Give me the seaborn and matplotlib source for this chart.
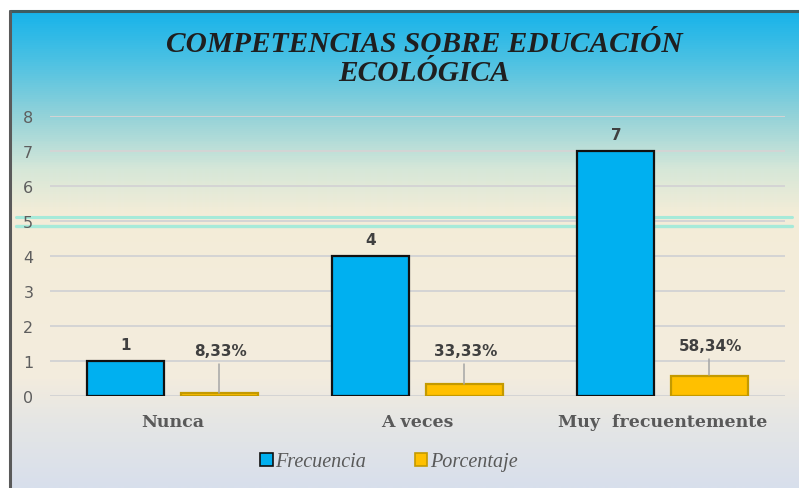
import numpy as np
import pandas as pd
import matplotlib
matplotlib.use("Agg")
import matplotlib.pyplot as plt
from matplotlib.colors import LinearSegmentedColormap
from matplotlib.patches import Patch
import seaborn as sns

# ---- data ----
categories = ["Nunca", "A veces", "Muy  frecuentemente"]
frecuencia = [1, 4, 7]
porcentaje = [0.0833, 0.3333, 0.5834]
pct_labels = ["8,33%", "33,33%", "58,34%"]
series_names = ["Frecuencia", "Porcentaje"]
title = "COMPETENCIAS SOBRE EDUCACIÓN\nECOLÓGICA"
yticks = list(range(0, 9))

df = pd.DataFrame({
    "cat": categories * 2,
    "serie": [series_names[0]] * 3 + [series_names[1]] * 3,
    "valor": frecuencia + porcentaje,
})

BLUE = "#00B0F0"
GOLD = "#FFC000"

sns.set_theme(style="white")
plt.rcParams["font.family"] = ["DejaVu Sans"]

W, H = 799, 489
fig = plt.figure(figsize=(W / 100, H / 100), dpi=100)

# background gradient
bg = fig.add_axes([0, 0, 1, 1], zorder=-10)
stops = [
    (0.0, "#0AB0EC"),
    (60 / 489, "#4BC1E3"),
    (115 / 489, "#92D2D9"),
    (170 / 489, "#D6E7D8"),
    (215 / 489, "#F4EDD8"),
    (380 / 489, "#F3ECDE"),
    (425 / 489, "#E5E6E5"),
    (1.0, "#D8DFEC"),
]
cmap = LinearSegmentedColormap.from_list("bgc", stops)
grad = np.linspace(0, 1, 489).reshape(-1, 1)
bg.imshow(grad, aspect="auto", cmap=cmap, extent=[0, 1, 0, 1], origin="upper")
bg.set_xlim(0, 1)
bg.set_ylim(0, 1)
bg.axis("off")
# white margin and border
bg.add_patch(plt.Rectangle((0, 1 - 11 / 489), 1, 11 / 489, color="white", zorder=2))
bg.add_patch(plt.Rectangle((0, 0), 9 / 799, 1, color="white", zorder=2))
bg.plot([9.5 / 799, 1], [1 - 11.5 / 489] * 2, color="#3D5C62", lw=2.2, zorder=3)
bg.plot([9.5 / 799] * 2, [0, 1 - 11.5 / 489], color="#5A5A5A", lw=2.2, zorder=3)
# scan artefact lines near the 5 gridline
bg.plot([16 / W, 792 / W], [1 - 218 / H] * 2, color="#A6EAD9", lw=2.2, zorder=1)
bg.plot([16 / W, 792 / W], [1 - 227 / H] * 2, color="#A6EAD9", lw=2.4, zorder=1)

ax = fig.add_axes([50 / W, 92 / H, 735 / W, 280 / H])
ax.set_facecolor("none")
sns.barplot(data=df, x="cat", y="valor", hue="serie", order=categories,
            hue_order=series_names, palette=[BLUE, GOLD], saturation=1,
            width=0.76, gap=0.174, ax=ax, legend=False, zorder=3)

for i, p in enumerate(ax.patches[:6]):
    if i < 3:
        p.set_edgecolor("#111111")
        p.set_linewidth(1.6)
    else:
        p.set_edgecolor("#C49A00")
        p.set_linewidth(1.6)

ax.set_xlim(-0.5, 2.5)
ax.set_ylim(0, 8)
ax.set_yticks(yticks)
ax.grid(axis="y", color="#D4D4D4", lw=1.4, zorder=0)
ax.grid(axis="x", visible=False)
for s in ax.spines.values():
    s.set_visible(False)
ax.set_xlabel("")
ax.set_ylabel("")
ax.tick_params(axis="y", length=0, pad=12, labelsize=11.5, labelcolor="#5E5E5E")
ax.tick_params(axis="x", length=0, pad=12)
ax.set_xticks(range(3))
ax.set_xticklabels(categories, fontfamily="DejaVu Serif", fontweight="bold",
                   fontsize=12.5, color="#595959")

# data labels
off = 0.19
for i, v in enumerate(frecuencia):
    ax.text(i - off, v + 0.27, f"{v}", ha="center", va="bottom", fontsize=11,
            fontweight="bold", color="#404040")
pct_label_y = [1.29, 1.29, 1.43]
for i, v in enumerate(porcentaje):
    ax.text(i + off + 0.005, pct_label_y[i], pct_labels[i], ha="center", va="center",
            fontsize=11, fontweight="bold", color="#404040")
    ax.plot([i + off] * 2, [pct_label_y[i] - 0.37, v + 0.01], color="#A6A6A6",
            lw=1.1, zorder=4)

# title
fig.text(424 / W, 1 - 59 / H, title, ha="center", va="center",
         fontfamily="Liberation Serif", fontweight="bold", fontstyle="italic",
         fontsize=21.2, color="#1F1F1F", linespacing=1.12)

# legend
handles = [Patch(facecolor=BLUE, edgecolor="#111111", lw=1.2),
           Patch(facecolor=GOLD, edgecolor="#C49A00", lw=1.2)]
leg = fig.legend(handles, series_names, loc="center", bbox_to_anchor=(389 / W, 1 - 463 / H),
                 ncol=2, frameon=False, handlelength=0.6, handleheight=0.6,
                 handletextpad=0.15, columnspacing=2.4,
                 prop={"family": "Liberation Serif", "style": "italic", "size": 14.5})
for t in leg.get_texts():
    t.set_color("#595959")

fig.savefig("out.png", dpi=100)
